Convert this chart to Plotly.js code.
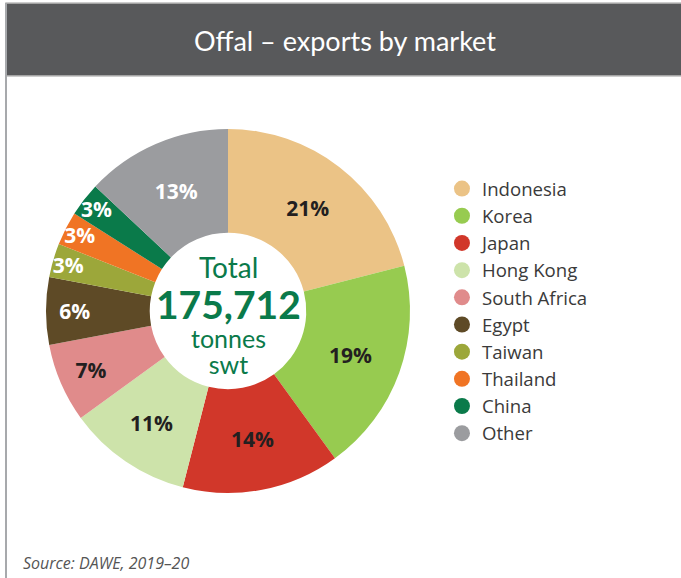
<!DOCTYPE html>
<html>
<head>
<meta charset="utf-8">
<script src="https://cdn.plot.ly/plotly-3.0.1.min.js"></script>
<style>html,body{margin:0;padding:0;background:#fff;}#chart{width:681px;height:578px;}</style>
</head>
<body>
<div id="chart"></div>
<script>
const markets = ["Indonesia","Korea","Japan","Hong Kong","South Africa","Egypt","Taiwan","Thailand","China","Other"];
const shares = [21,19,14,11,7,6,3,3,3,13];
const colors = ["#EBC386","#97CB50","#D1372A","#CDE3AA","#E08B8B","#5E4A26","#9CA73A","#F07424","#0A7A4A","#9B9C9F"];
const labelColors = ["#231F20","#231F20","#231F20","#231F20","#231F20","#FFFFFF","#FFFFFF","#FFFFFF","#FFFFFF","#FFFFFF"];
const totalTonnes = "175,712";

const W = 681, H = 578;
const cx = 228, cy = 311, r = 182;

const traces = [{
  type: "pie",
  labels: markets,
  values: shares,
  sort: false,
  direction: "clockwise",
  rotation: 0,
  hole: 0.43,
  marker: {colors: colors, line: {width: 0}},
  texttemplate: "%{value}%",
  textposition: "inside",
  insidetextorientation: "horizontal",
  textfont: {family: "Open Sans, sans-serif", size: 21, color: labelColors, weight: 700},
  showlegend: false,
  hoverinfo: "label+value",
  domain: {x: [(cx - r) / W, (cx + r) / W], y: [(H - cy - r) / H, (H - cy + r) / H]}
}];

markets.forEach((m, i) => {
  traces.push({
    type: "scatter", mode: "markers", x: [null], y: [null], name: m,
    marker: {symbol: "circle", size: 17, color: colors[i]},
    showlegend: true, hoverinfo: "skip"
  });
});

const centerBottom =
  "<span style='font-size:25px'>tonnes</span><br><span style='font-size:25px'>swt</span>";

const layout = {
  width: W, height: H,
  margin: {l: 0, r: 0, t: 0, b: 0},
  paper_bgcolor: "#ffffff",
  plot_bgcolor: "rgba(0,0,0,0)",
  font: {family: "'Open Sans', sans-serif", color: "#333"},
  uniformtext: {mode: "show", minsize: 21},
  xaxis: {visible: false, domain: [0.95, 1]},
  yaxis: {visible: false, domain: [0.95, 1]},
  legend: {
    x: 0.649, y: 1 - 170 / H, xanchor: "left", yanchor: "top",
    font: {family: "'Open Sans', sans-serif", size: 18.6, color: "#3a3a3a"},
    itemwidth: 30, tracegroupgap: 0, bgcolor: "rgba(0,0,0,0)"
  },
  shapes: [
    {type: "rect", xref: "paper", yref: "paper", x0: 6 / W, x1: 1.01, y0: 1 - 76 / H, y1: 1 - 3 / H,
     fillcolor: "#58595B", line: {color: "#BDBDBD", width: 1.5}, layer: "below"},
    {type: "line", xref: "paper", yref: "paper", x0: 6 / W, x1: 6 / W, y0: 0, y1: 1 - 3 / H,
     line: {color: "#A7A9AC", width: 2}, layer: "below"}
  ],
  annotations: [
    {text: "Offal – exports by market", xref: "paper", yref: "paper", x: 345 / W, y: 1 - 41 / H,
     xanchor: "center", yanchor: "middle", showarrow: false,
     font: {family: "Lato, 'Open Sans', sans-serif", size: 27, color: "#FFFFFF"}},
    {text: "Total", xref: "paper", yref: "paper", x: cx / W, y: 1 - 267 / H, xanchor: "center", yanchor: "middle",
     showarrow: false, font: {family: "Lato, sans-serif", size: 28, color: "#0A7A4A"}},
    {text: "<b>" + totalTonnes + "</b>", xref: "paper", yref: "paper", x: cx / W, y: 1 - 304 / H, xanchor: "center", yanchor: "middle",
     showarrow: false, font: {family: "Lato, sans-serif", size: 39, color: "#0A7A4A"}},
    {text: centerBottom, xref: "paper", yref: "paper", x: cx / W, y: 1 - 351 / H, xanchor: "center", yanchor: "middle",
     align: "center", showarrow: false, font: {family: "Lato, sans-serif", size: 20, color: "#0A7A4A"}},
    {text: "<i>Source: DAWE, 2019–20</i>", xref: "paper", yref: "paper", x: 21 / W, y: 1 - 563 / H, xanchor: "left", yanchor: "middle",
     showarrow: false, font: {family: "'Open Sans', sans-serif", size: 16, color: "#555"}}
  ]
};

Plotly.newPlot("chart", traces, layout, {displayModeBar: false, staticPlot: true});
</script>
</body>
</html>
